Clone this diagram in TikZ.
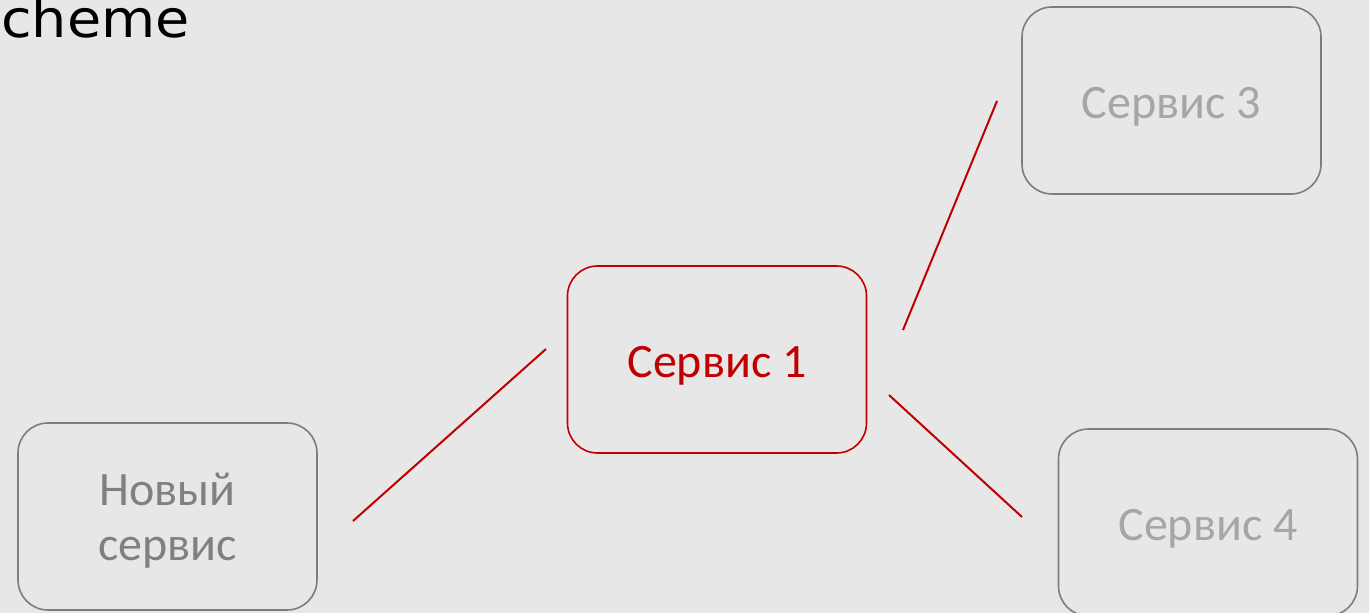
\documentclass[tikz,border=0pt]{standalone}
\usepackage{fontspec}
\setmainfont{Carlito}
\newfontfamily\titlefont{DejaVu Sans}
\definecolor{bg}{RGB}{231,231,231}
\definecolor{accent}{RGB}{192,0,0}
\definecolor{boxgray}{RGB}{125,125,125}
\definecolor{txtgray}{RGB}{128,128,128}
\definecolor{ltgray}{RGB}{166,166,166}
\newcommand\svctext[2]{\raisebox{#1}[0pt][0pt]{#2}}
\begin{document}
\begin{tikzpicture}[x=1pt,y=1pt,
  svc/.style={rectangle, rounded corners=30pt, minimum width=299pt, minimum height=187pt,
    line width=1.6pt, draw=boxgray, inner sep=0pt,
    font=\fontsize{48}{55}\selectfont},
  mainsvc/.style={svc, draw=accent, text=accent},
  link/.style={draw=accent, line width=2pt}]
\useasboundingbox[fill=bg] (0,0) rectangle (1369,-613);
\node[anchor=base east, inner sep=0pt, font=\titlefont\fontsize{52}{54}\selectfont] (title) at (190,-37.5) {\scalebox{1.07}[1]{Scheme}};
\node[svc, text=txtgray] (new) at (167.5,-516.5) {\svctext{11.5pt}{\begin{tabular}[t]{@{}c@{}}Новый\\сервис\end{tabular}}};
\node[mainsvc] (s1) at (717,-359.5) {\svctext{-17.5pt}{Сервис 1}};
\node[svc, text=ltgray] (s3) at (1171.5,-100.5) {\svctext{-17.5pt}{Сервис 3}};
\node[svc, text=ltgray] (s4) at (1208,-522.5) {\svctext{-17.5pt}{Сервис 4}};
\coordinate (a1) at (353,-521);
\coordinate (a2) at (546,-349);
\coordinate (b1) at (903,-330);
\coordinate (b2) at (997,-101);
\coordinate (c1) at (889,-395);
\coordinate (c2) at (1022,-517);
\draw[link] (a1) -- (a2);
\draw[link] (b1) -- (b2);
\draw[link] (c1) -- (c2);
\end{tikzpicture}
\end{document}
